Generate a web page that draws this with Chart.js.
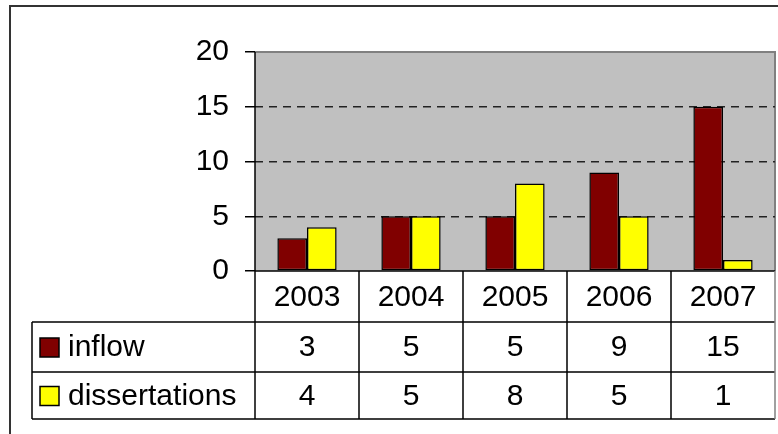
<!DOCTYPE html>
<html>
<head>
<meta charset="utf-8">
<script src="https://cdn.jsdelivr.net/npm/chart.js@4"></script>
<style>
html, body { margin: 0; padding: 0; background: #fff; }
</style>
</head>
<body>
<canvas id="grafico" width="778" height="434"></canvas>
<script>
// datos del grafico
const years = ['2003', '2004', '2005', '2006', '2007'];
const inflow = [3, 5, 5, 9, 15];
const dissertations = [4, 5, 8, 5, 1];
const seriesNames = ['inflow', 'dissertations'];
const seriesColors = ['#800000', '#ffff00'];

const fuente = '"Liberation Sans", Arial, sans-serif';

// fondo gris, marco exterior y tabla de datos
const marcoPlugin = {
    id: 'marco',
    beforeDraw(chart) {
        const ctx = chart.ctx;
        const a = chart.chartArea;
        ctx.save();
        ctx.fillStyle = '#fff';
        ctx.fillRect(0, 0, chart.width, chart.height);
        ctx.strokeStyle = '#333';
        ctx.lineWidth = 2;
        ctx.strokeRect(10, 6, 900, 600);
        ctx.fillStyle = '#c0c0c0';
        ctx.fillRect(a.left, a.top, a.right - a.left, a.bottom - a.top);
        ctx.strokeStyle = '#808080';
        ctx.beginPath();
        ctx.moveTo(a.left, a.top);
        ctx.lineTo(a.right, a.top);
        ctx.lineTo(a.right, a.bottom);
        ctx.stroke();
        ctx.restore();
    },
    afterDraw(chart) {
        const ctx = chart.ctx;
        const a = chart.chartArea;
        const xs = chart.scales.x;
        const ancho = (a.right - a.left) / years.length;
        const filas = [a.bottom, a.bottom + 51, a.bottom + 101, a.bottom + 148];
        const izq = 32;
        const valores = [inflow, dissertations];

        ctx.save();
        ctx.strokeStyle = '#000';
        ctx.lineWidth = 1.5;
        // eje vertical
        ctx.beginPath();
        ctx.moveTo(a.left, a.top);
        ctx.lineTo(a.left, filas[3]);
        ctx.stroke();
        // lineas horizontales de la tabla
        ctx.beginPath();
        ctx.moveTo(a.left, filas[0]);
        ctx.lineTo(a.right, filas[0]);
        for (let r = 1; r < filas.length; r++) {
            ctx.moveTo(izq, filas[r]);
            ctx.lineTo(a.right, filas[r]);
        }
        // separadores de columnas
        for (let i = 1; i < years.length; i++) {
            const x = a.left + i * ancho;
            ctx.moveTo(x, filas[0]);
            ctx.lineTo(x, filas[3]);
        }
        ctx.moveTo(izq, filas[1]);
        ctx.lineTo(izq, filas[3]);
        ctx.stroke();
        ctx.strokeStyle = '#808080';
        ctx.beginPath();
        ctx.moveTo(a.right, filas[0]);
        ctx.lineTo(a.right, filas[3]);
        ctx.stroke();

        // textos
        ctx.fillStyle = '#000';
        ctx.font = '30px ' + fuente;
        ctx.textBaseline = 'middle';
        ctx.textAlign = 'center';
        for (let i = 0; i < years.length; i++) {
            const x = xs.getPixelForValue(i);
            ctx.fillText(years[i], x, (filas[0] + filas[1]) / 2 + 1);
            for (let s = 0; s < valores.length; s++) {
                ctx.fillText(String(valores[s][i]), x, (filas[s + 1] + filas[s + 2]) / 2 + 1);
            }
        }
        ctx.textAlign = 'left';
        for (let s = 0; s < seriesNames.length; s++) {
            const y = (filas[s + 1] + filas[s + 2]) / 2;
            ctx.fillStyle = seriesColors[s];
            ctx.fillRect(40, y - 9, 19, 19);
            ctx.strokeStyle = '#000';
            ctx.strokeRect(40, y - 9, 19, 19);
            ctx.fillStyle = '#000';
            ctx.fillText(seriesNames[s], 68, y + 1);
        }
        ctx.restore();
    }
};

const grafico = new Chart(document.getElementById('grafico'), {
    type: 'bar',
    data: {
        labels: years,
        datasets: [{
            label: seriesNames[0],
            data: inflow,
            backgroundColor: seriesColors[0],
            borderColor: '#000',
            borderWidth: 1.5,
            borderSkipped: false,
            categoryPercentage: 0.57,
            barPercentage: 1
        }, {
            label: seriesNames[1],
            data: dissertations,
            backgroundColor: seriesColors[1],
            borderColor: '#000',
            borderWidth: 1.5,
            borderSkipped: false,
            categoryPercentage: 0.57,
            barPercentage: 1
        }]
    },
    options: {
        responsive: false,
        animation: false,
        devicePixelRatio: 1,
        layout: {
            padding: { left: 0, top: 52, right: 3, bottom: 163 }
        },
        plugins: {
            legend: { display: false },
            tooltip: { enabled: false }
        },
        scales: {
            x: { display: false },
            y: {
                min: 0,
                max: 20,
                afterFit: function (scale) { scale.width = 255; },
                ticks: {
                    stepSize: 5,
                    padding: 16,
                    color: '#000',
                    font: { family: fuente, size: 30 }
                },
                border: { display: false, dash: [8, 6] },
                grid: {
                    color: function (c) {
                        return (c.tick && (c.tick.value === 0 || c.tick.value === 20)) ? 'rgba(0,0,0,0)' : '#222';
                    },
                    lineWidth: 1.5,
                    tickLength: 10,
                    tickColor: '#000',
                    tickWidth: 1.5,
                    tickBorderDash: []
                }
            }
        }
    },
    plugins: [marcoPlugin]
});
</script>
</body>
</html>
